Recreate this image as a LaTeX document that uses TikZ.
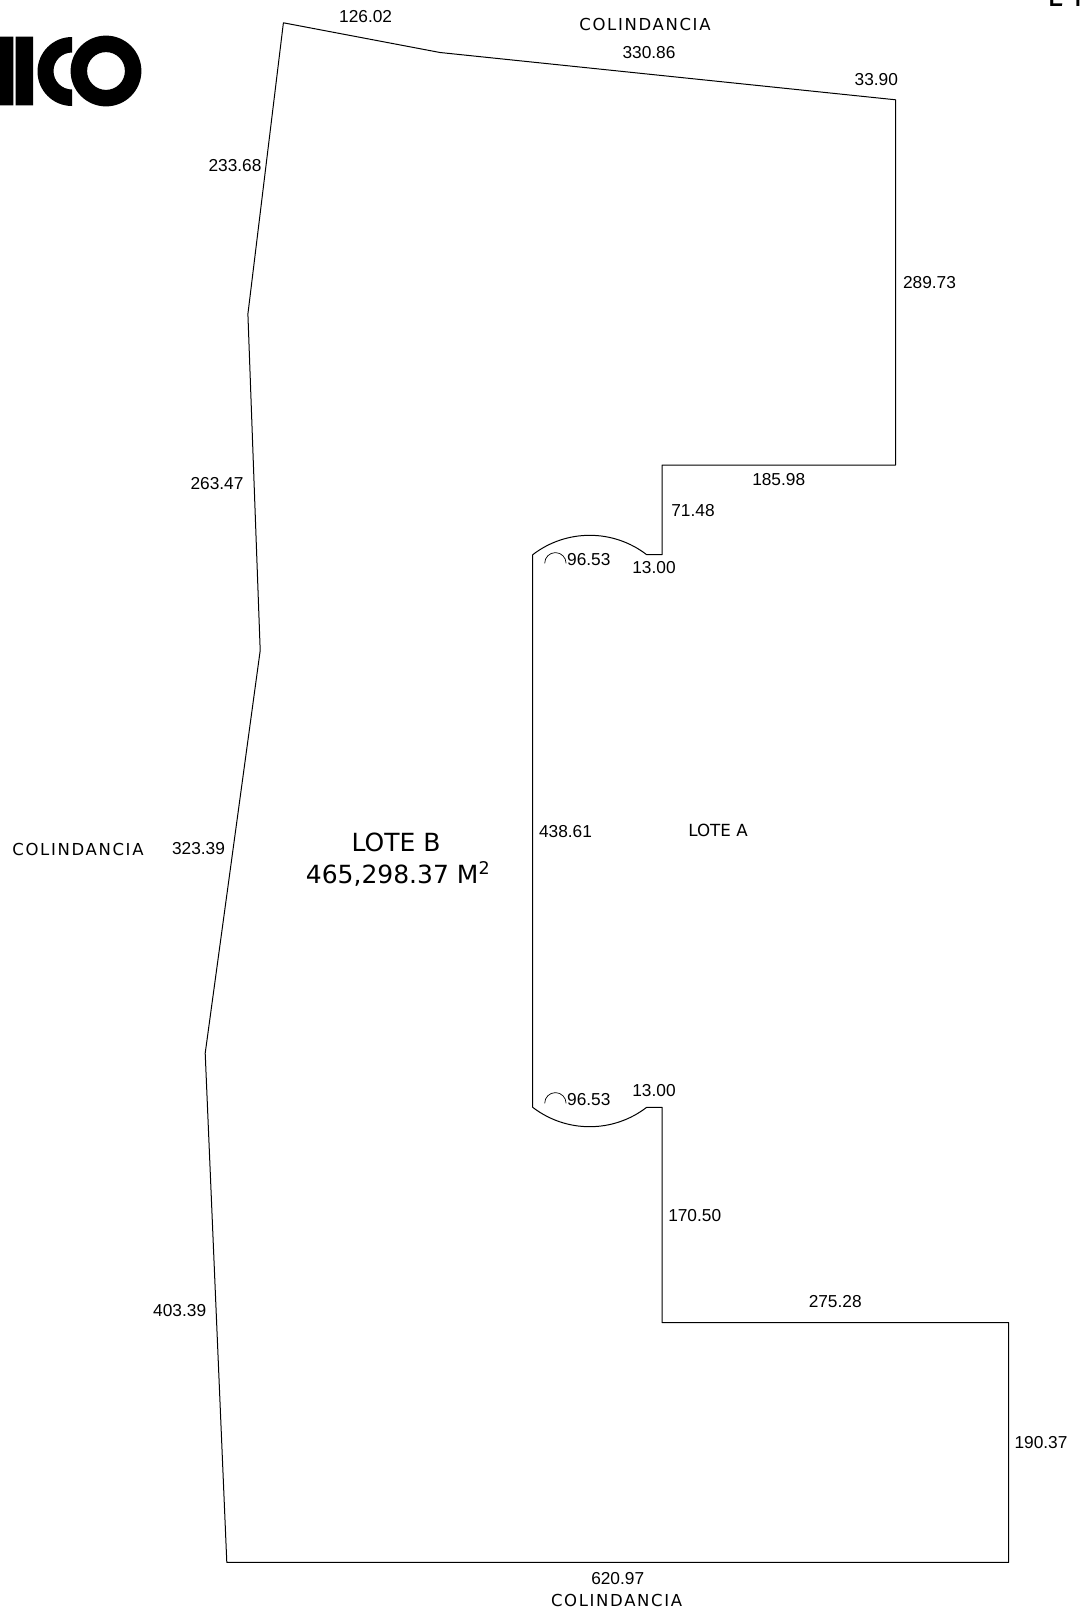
\documentclass[tikz,border=0pt]{standalone}
\usepackage{fontspec}
\setmainfont{Liberation Sans}
\newfontfamily\dinfont{DejaVu Sans}
\newfontfamily\dinwide[LetterSpace = 10]{DejaVu Sans}
\newfontfamily\hojafont{Fira Sans}

\tikzset{
	medida/.style = {inner sep = 0pt, font = \fontsize{17.3}{20}\selectfont},
	rotulo/.style = {inner sep = 0pt, font = \dinwide\fontsize{16.5}{22}\selectfont},
	lotea/.style = {inner sep = 0pt, font = \dinfont\fontsize{16.7}{22}\selectfont},
	lote/.style = {inner sep = 0pt, font = \dinfont\fontsize{25}{32}\selectfont},
	hoja/.style = {inner sep = 0pt, font = \hojafont\fontsize{32}{36}\selectfont}
}

\begin{document}
\begin{tikzpicture}[x = 1pt, y = -1pt]
	\useasboundingbox (0,0) rectangle (1081,1612);
	\fill[color = black]
	(0,36.7) rectangle (13.3,105.3)
	(15.7,36.7) rectangle (33,105.3)
	(72,37) arc[start angle = -90, end angle = -270, radius = 34.5] -- (72,105.5) -- (72,89.5) arc[start angle = 90, end angle = 270, radius = 18.5] -- cycle;
	\fill[color = black, even odd rule]
	(106,71) circle[radius = 35.4]
	(106,71) circle[radius = 18.9];
	\draw[color = black, line width = 1pt, line join = round]
	(283.4,22.8) -- (440,52.5) -- (895.7,99.8) -- (895.7,465) -- (662.1,465) -- (662.1,554.7) -- (646.7,554.7)
	arc[start angle = -52.4, end angle = -127.6, radius = 93.4] -- (532.7,1107.3)
	arc[start angle = 127.6, end angle = 52.4, radius = 93.4] -- (662.1,1107.3) -- (662.1,1322.6) -- (1008.7,1322.6) -- (1008.7,1562.3) -- (226.8,1562.3) -- (205.2,1053.2) -- (260.2,650.5) -- (247.9,314) -- cycle;
	\draw[color = black, line width = 0.7pt]
	(544.7,563.3) arc[start angle = -180, end angle = 0, radius = 10.7]
	(544.7,1103.3) arc[start angle = -180, end angle = 0, radius = 10.7];
	\node[hoja, anchor = base west] (H1) at (1047,6) {L\hspace{6pt}1};
	\node[medida] (N1) at (365.6,16.5) {126.02};
	\node[medida] (N2) at (649,52.5) {330.86};
	\node[medida] (N3) at (876.3,80) {33.90};
	\node[medida] (O1) at (235,165.6) {233.68};
	\node[medida] (E1) at (929.5,283) {289.73};
	\node[medida] (O2) at (217,483.4) {263.47};
	\node[medida] (E2) at (778.7,479.3) {185.98};
	\node[medida] (E3) at (693,511) {71.48};
	\node[medida] (A1) at (588.8,559.5) {96.53};
	\node[medida] (E4) at (654,567.7) {13.00};
	\node[medida] (C1) at (565.5,832) {438.61};
	\node[medida] (O3) at (198.5,848.5) {323.39};
	\node[medida] (A2) at (588.8,1099.5) {96.53};
	\node[medida] (E5) at (654,1091) {13.00};
	\node[medida] (E6) at (694.7,1215.7) {170.50};
	\node[medida] (E7) at (835.2,1302) {275.28};
	\node[medida] (O4) at (179.7,1311) {403.39};
	\node[medida] (E8) at (1041,1443) {190.37};
	\node[medida] (S1) at (617.7,1578.7) {620.97};
	\node[rotulo] (COLN) at (645,24.7) {COLINDANCIA};
	\node[rotulo] (COLO) at (78,849.5) {COLINDANCIA};
	\node[rotulo] (COLS) at (616.6,1600) {COLINDANCIA};
	\node[lotea] (LOTEA) at (718,830) {LOTE A};
	\node[lote] (LOTEB) at (396,842) {LOTE B};
	\node[lote] (AREA) at (398,874) {465,298.37 M\textsuperscript{2}};
\end{tikzpicture}
\end{document}
